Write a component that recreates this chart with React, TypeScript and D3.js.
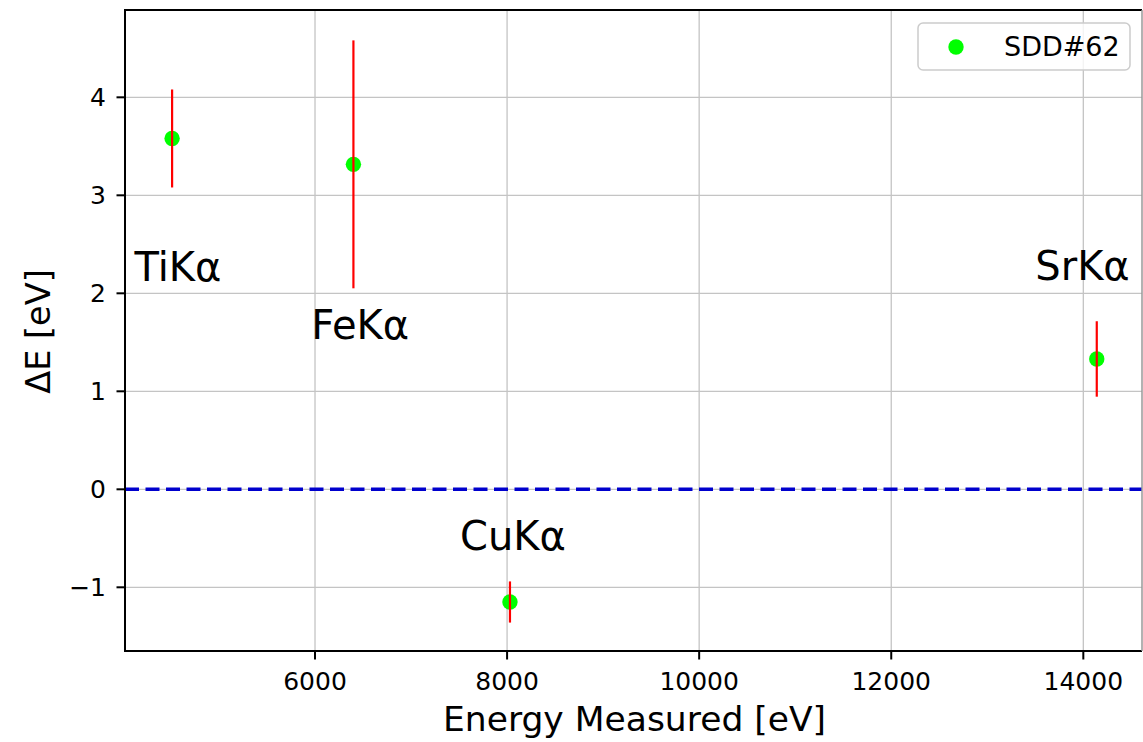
import React from "react";
import * as d3 from "d3";

// Measured energy offsets per emission line (SDD#62)
const lines = ["TiKα", "FeKα", "CuKα", "SrKα"];
const energy = [4512, 6400, 8030, 14140];
const deltaE = [3.58, 3.316, -1.15, 1.33];
const deltaErr = [0.5, 1.265, 0.21, 0.385];

// Annotation anchors (data coordinates, text baseline-left)
const labelX = [4120, 5960, 7510, 13500];
const labelY = [2.13, 1.53, -0.62, 2.14];

const xTicks = [6000, 8000, 10000, 12000, 14000];
const yTicks = [-1, 0, 1, 2, 3, 4];

const seriesName = "SDD#62";

const W = 1143;
const H = 742;
const m = { left: 125, right: 1142, top: 10, bottom: 651 };
const FONT = "DejaVu Sans, sans-serif";

export default function App() {
  const x = d3.scaleLinear().domain([4021.6, 14611]).range([m.left, m.right]);
  const y = d3.scaleLinear().domain([-1.65, 4.891]).range([m.bottom, m.top]);

  const gridColor = "#c4c4c4";

  return (
    <svg
      width={W}
      height={H}
      style={{ position: "absolute", left: 0, top: 0, background: "#fff" }}
      fontFamily={FONT}
    >
      {/* grid */}
      <g>
        {xTicks.map((t) => (
          <line key={"gx" + t} x1={x(t)} x2={x(t)} y1={m.top} y2={m.bottom} stroke={gridColor} strokeWidth={1.3} />
        ))}
        {yTicks.map((t) => (
          <line key={"gy" + t} x1={m.left} x2={m.right} y1={y(t)} y2={y(t)} stroke={gridColor} strokeWidth={1.3} />
        ))}
      </g>

      {/* zero reference */}
      <line
        x1={m.left}
        x2={m.right}
        y1={y(0)}
        y2={y(0)}
        stroke="#0000cd"
        strokeWidth={3.6}
        strokeDasharray="14 6.5"
      />

      {/* points */}
      {energy.map((e, i) => (
        <circle key={"p" + i} cx={x(e)} cy={y(deltaE[i])} r={7.7} fill="#00ff00" />
      ))}

      {/* error bars */}
      {energy.map((e, i) => (
        <line
          key={"e" + i}
          x1={x(e)}
          x2={x(e)}
          y1={y(deltaE[i] + deltaErr[i])}
          y2={y(deltaE[i] - deltaErr[i])}
          stroke="#ff0000"
          strokeWidth={2.2}
        />
      ))}

      {/* line annotations */}
      {lines.map((l, i) => (
        <text key={"l" + i} x={x(labelX[i])} y={y(labelY[i])} fontSize={40} fill="#000">
          {l}
        </text>
      ))}

      {/* frame */}
      <line x1={m.left} x2={m.left} y1={m.top - 1} y2={m.bottom + 1} stroke="#000" strokeWidth={2} />
      <line x1={m.left - 1} x2={m.right} y1={m.bottom} y2={m.bottom} stroke="#000" strokeWidth={2} />
      <line x1={m.left - 1} x2={m.right} y1={m.top} y2={m.top} stroke="#000" strokeWidth={2} />
      <line x1={m.right} x2={m.right} y1={m.top} y2={m.bottom} stroke="#999" strokeWidth={1.5} />

      {/* x axis */}
      {xTicks.map((t) => (
        <g key={"xt" + t}>
          <line x1={x(t)} x2={x(t)} y1={m.bottom} y2={m.bottom + 8.5} stroke="#000" strokeWidth={2} />
          <text x={x(t)} y={m.bottom + 39} fontSize={25} textAnchor="middle" fill="#000">
            {t}
          </text>
        </g>
      ))}
      <text x={634.5} y={731} fontSize={34.5} textAnchor="middle" fill="#000">
        Energy Measured [eV]
      </text>

      {/* y axis */}
      {yTicks.map((t) => (
        <g key={"yt" + t}>
          <line x1={m.left - 8.5} x2={m.left} y1={y(t)} y2={y(t)} stroke="#000" strokeWidth={2} />
          <text x={m.left - 19} y={y(t)} dy="0.36em" fontSize={25} textAnchor="end" fill="#000">
            {t < 0 ? "\u2212" + Math.abs(t) : t}
          </text>
        </g>
      ))}
      <text
        transform={`translate(50, ${(267 + 394) / 2 + 1}) rotate(-90)`}
        fontSize={33.5}
        textAnchor="middle"
        fill="#000"
      >
        ΔE [eV]
      </text>

      {/* legend */}
      <g>
        <rect x={918} y={23} width={212} height={47} rx={5} fill="#fff" fillOpacity={0.8} stroke="#cccccc" strokeWidth={1.5} />
        <circle cx={956} cy={47} r={7.7} fill="#00ff00" />
        <text x={1004} y={56} fontSize={27} fill="#000">
          {seriesName}
        </text>
      </g>
    </svg>
  );
}
